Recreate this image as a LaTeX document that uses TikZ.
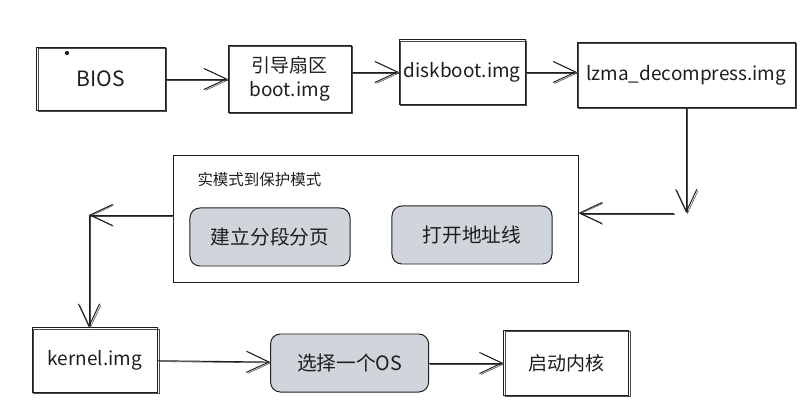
\documentclass[tikz,border=0pt]{standalone}
\usepackage{fontspec}
\setmainfont{Noto Sans CJK SC}
\usetikzlibrary{positioning,arrows.meta}
\definecolor{ink}{HTML}{1E1E1E}
\definecolor{slate}{HTML}{D0D4DB}

\tikzset{
  sketch/.style={draw=ink, line width=0.7pt,
    preaction={draw=ink!80, line width=0.4pt, transform canvas={shift={(0.9pt,-0.6pt)}}}},
  stage/.style={rectangle, sketch, minimum width=3.125cm, minimum height=1.6cm,
    font=\fontsize{13.5}{17}\selectfont, align=center, text=ink},
  task/.style={rectangle, rounded corners=7pt, draw=ink, line width=0.7pt, fill=slate,
    minimum width=4cm, minimum height=1.45cm, font=\fontsize{14}{16}\selectfont, text=ink},
  flow/.style={sketch, -{Straight Barb[length=16pt,width=15pt]}},
}

\begin{document}
\begin{tikzpicture}[x=0.025cm, y=-0.025cm]
\useasboundingbox (0,0) rectangle (808,418);

% Top row
\node[stage, minimum width=3.2cm, minimum height=1.575cm, font=\fontsize{15}{17}\selectfont] (bios) at (101,79) {BIOS};
\fill[ink] ([xshift=-0.85cm,yshift=0.65cm]bios.center) circle (1.5pt);
\node[stage, minimum width=3.075cm, minimum height=1.675cm, right=1.55cm of bios] (bootimg) {引导扇区\\boot.img};
\node[stage, right=1.175cm of bootimg, yshift=0.175cm] (diskboot) {diskboot.img};
\node[stage, minimum width=5.45cm, minimum height=1.625cm, right=1.275cm of diskboot, yshift=-0.075cm] (lzma) {lzma\_decompress.img};

% Mode switch
\node[rectangle, draw=ink, line width=0.6pt, minimum width=10.125cm, minimum height=3.175cm] (mode) at (375.5,218.5) {};
\node[anchor=west, font=\fontsize{11}{13}\selectfont, text=ink] (modetitle) at ([xshift=0.5cm,yshift=-0.625cm]mode.north west) {实模式到保护模式};
\node[task] (paging) at (270,237) {建立分段分页};
\node[task] (a20) at (472,235) {打开地址线};

% Bottom row
\node[stage] (kernel) at (95,360) {kernel.img};
\node[task, minimum width=3.95cm, right=2.8cm of kernel, yshift=-0.075cm] (choose) {选择一个OS};
\node[stage, minimum height=1.625cm, right=1.85cm of choose] (startk) {启动内核};

% Turns
\coordinate (turnR) at (685,213);
\coordinate (turnL) at (89,215);

% Arrows
\draw[flow] (bios) -- (bootimg);
\draw[flow] (bootimg.east |- diskboot) -- (diskboot.west);
\draw[flow] (diskboot) -- (diskboot -| lzma.west);
\draw[flow] (lzma.south) -- (lzma.south |- turnR);
\draw[flow, shorten <=8pt] (turnR) -- (turnR -| mode.east);
\draw[flow] (mode.west |- turnL) -- (turnL);
\draw[flow] (turnL) -- (turnL |- kernel.north);
\draw[flow] (kernel) -- (choose);
\draw[flow] (choose) -- (startk);

\end{tikzpicture}
\end{document}
